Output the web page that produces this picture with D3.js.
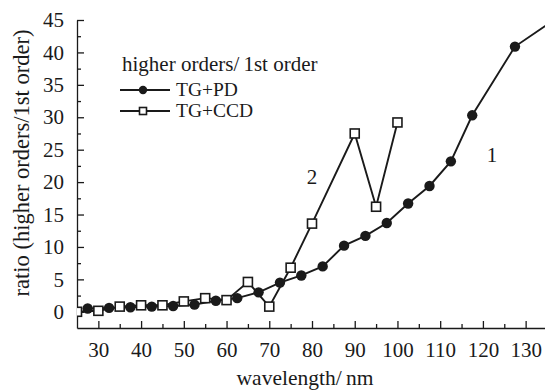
<!DOCTYPE html>
<html>
<head>
<meta charset="utf-8">
<script src="https://cdn.jsdelivr.net/npm/d3@7"></script>
<style>
  body { margin: 0; background: #fff; }
  svg text { font-family: "Liberation Serif", Tinos, "Times New Roman", serif; fill: #1a1a1a; }
</style>
</head>
<body>
<div id="chart"></div>
<script>
// TG+PD (curve 1)
const pdWave = [27.5, 32.5, 37.5, 42.5, 47.5, 52.5, 57.5, 62.5, 67.5, 72.5, 77.5, 82.5, 87.5, 92.5, 97.5, 102.5, 107.5, 112.5, 117.5, 127.5, 137.5];
const pdRatio = [0.5, 0.6, 0.7, 0.8, 0.9, 1.1, 1.7, 2.1, 3.0, 4.5, 5.6, 7.0, 10.2, 11.7, 13.7, 16.7, 19.4, 23.2, 30.3, 40.9, 45.4];
// TG+CCD (curve 2)
const ccdWave = [25, 30, 35, 40, 45, 50, 55, 60, 65, 70, 75, 80, 90, 95, 100];
const ccdRatio = [0.0, 0.15, 0.8, 1.0, 1.0, 1.6, 2.1, 1.8, 4.6, 0.8, 6.8, 13.6, 27.5, 16.2, 29.2];

const xTicks = [30, 40, 50, 60, 70, 80, 90, 100, 110, 120, 130];
const xMinor = [35, 45, 55, 65, 75, 85, 95, 105, 115, 125];
const yTicks = [0, 5, 10, 15, 20, 25, 30, 35, 40, 45];
const yMinor = [2.5, 7.5, 12.5, 17.5, 22.5, 27.5, 32.5, 37.5, 42.5];

const width = 545;
const height = 390;
const ink = "#1a1a1a";
const serif = '"Liberation Serif", Tinos, "Times New Roman", serif';

const svg = d3.select("#chart").append("svg")
  .attr("width", width)
  .attr("height", height);

const x = d3.scaleLinear().domain([25, 135]).range([77, 547]);
const y = d3.scaleLinear().domain([-2.5, 45]).range([328, 20]);

svg.append("clipPath").attr("id", "plot-clip")
  .append("rect").attr("x", 77).attr("y", 0).attr("width", width - 77).attr("height", 328);

// Axes (ticks point inward)
svg.append("g")
  .attr("transform", "translate(0,328)")
  .call(d3.axisBottom(x).tickValues(xTicks).tickSizeInner(-7).tickSizeOuter(0).tickPadding(14));
svg.append("g")
  .attr("transform", "translate(0,328)")
  .call(d3.axisBottom(x).tickValues(xMinor).tickSizeInner(-4).tickSizeOuter(0).tickFormat(""))
  .select(".domain").remove();

svg.append("g")
  .attr("transform", "translate(77,0)")
  .call(d3.axisLeft(y).tickValues(yTicks).tickSizeInner(-7).tickSizeOuter(0).tickPadding(13));
svg.append("g")
  .attr("transform", "translate(77,0)")
  .call(d3.axisLeft(y).tickValues(yMinor).tickSizeInner(-4).tickSizeOuter(0).tickFormat(""))
  .select(".domain").remove();

svg.selectAll(".domain, .tick line").attr("stroke", ink).attr("stroke-width", 1.3);
svg.selectAll(".tick text")
  .attr("font-size", 21).attr("fill", ink)
  .style("font-family", serif);

// Axis titles
svg.append("text")
  .attr("x", 305).attr("y", 385)
  .attr("text-anchor", "middle").attr("font-size", 21.5)
  .style("font-family", serif)
  .text("wavelength/\u2009nm");

svg.append("text")
  .attr("transform", "translate(29,163) rotate(-90)")
  .attr("text-anchor", "middle").attr("font-size", 22.5)
  .style("font-family", serif)
  .text("ratio (higher orders/1st order)");

// Lines
const plot = svg.append("g").attr("clip-path", "url(#plot-clip)");
const line = d3.line().x((d) => x(d[0])).y((d) => y(d[1]));

const pdData = pdWave.map((w, i) => [w, pdRatio[i]]);
const ccdData = ccdWave.map((w, i) => [w, ccdRatio[i]]);

plot.append("path").datum(pdData)
  .attr("d", line).attr("fill", "none").attr("stroke", ink).attr("stroke-width", 1.9);
plot.append("path").datum(ccdData)
  .attr("d", line).attr("fill", "none").attr("stroke", ink).attr("stroke-width", 1.9);

plot.selectAll(".pd").data(pdData).enter().append("circle")
  .attr("class", "pd")
  .attr("cx", (d) => x(d[0])).attr("cy", (d) => y(d[1]))
  .attr("r", 5.2).attr("fill", ink);

plot.selectAll(".ccd").data(ccdData).enter().append("rect")
  .attr("class", "ccd")
  .attr("x", (d) => x(d[0]) - 4.5).attr("y", (d) => y(d[1]) - 4.5)
  .attr("width", 9).attr("height", 9)
  .attr("fill", "#fff").attr("stroke", ink).attr("stroke-width", 1.6);

// Curve numbers
svg.append("text").attr("x", 312).attr("y", 184).attr("text-anchor", "middle")
  .attr("font-size", 21).style("font-family", serif).text("2");
svg.append("text").attr("x", 492).attr("y", 162).attr("text-anchor", "middle")
  .attr("font-size", 21).style("font-family", serif).text("1");

// Legend
const legend = svg.append("g");
legend.append("text").attr("x", 122).attr("y", 71).attr("font-size", 21)
  .style("font-family", serif).text("higher orders/\u20091st order");

const items = [
  { label: "TG+PD", y: 90, marker: "circle" },
  { label: "TG+CCD", y: 111, marker: "square" },
];
items.forEach((it) => {
  legend.append("line")
    .attr("x1", 120).attr("x2", 170).attr("y1", it.y).attr("y2", it.y)
    .attr("stroke", ink).attr("stroke-width", 2);
  if (it.marker === "circle") {
    legend.append("circle").attr("cx", 143).attr("cy", it.y).attr("r", 4.2).attr("fill", ink);
  } else {
    legend.append("rect").attr("x", 139.5).attr("y", it.y - 3.5).attr("width", 7).attr("height", 7)
      .attr("fill", "#fff").attr("stroke", ink).attr("stroke-width", 1.6);
  }
  legend.append("text").attr("x", 176).attr("y", it.y + 6).attr("font-size", 19.5)
    .style("font-family", serif).text(it.label);
});
</script>
</body>
</html>
